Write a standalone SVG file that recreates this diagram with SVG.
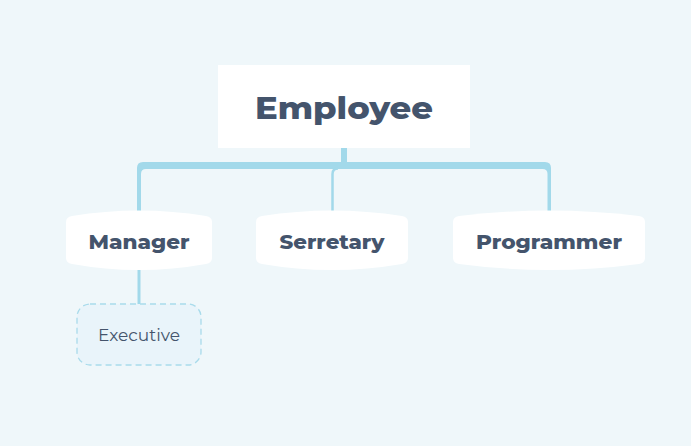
<svg xmlns="http://www.w3.org/2000/svg" width="691" height="446" viewBox="0 0 691 446">
<style>
.bg{fill:#EFF7FA}
.box{fill:#FFFFFF}
.t{font-family:"Montserrat","Open Sans","Liberation Sans",sans-serif;fill:#44546C;text-anchor:middle}
.b{font-weight:800}
.cf{fill:#A2D9EA}
.c{fill:none;stroke:#A2D9EA}
</style>
<rect class="bg" x="0" y="0" width="691" height="446"/>
<g id="connectors">
<rect class="cf" x="341" y="147" width="6" height="16"/>
<path class="cf" d="M137,212 V168 Q137,162 143,162 H545 Q551,162 551,168 V212 H547.5 V174 Q547.5,169 542.5,169 H146 Q141,169 141,174 V212 Z"/>
<path class="c" d="M332.5,212 V174 Q332.5,168.5 338,168.5" stroke-width="2.5"/>
<line class="c" x1="139" y1="270" x2="139" y2="316" stroke-width="3"/>
</g>
<g id="employee">
<rect class="box" x="218" y="65" width="252" height="83"/>
<text class="t b" x="344" y="119" font-size="30" textLength="178" lengthAdjust="spacingAndGlyphs">Employee</text>
</g>
<g id="manager">
<path class="box" d="M66,222 Q66,217 72,216 Q139,205 206,216 Q212,217 212,222 V258 Q212,263 206,264 Q139,276 72,264 Q66,263 66,258 Z"/>
<text class="t b" x="139" y="249" font-size="20" textLength="101" lengthAdjust="spacingAndGlyphs">Manager</text>
</g>
<g id="serretary">
<path class="box" d="M256,222 Q256,217 262,216 Q332,205 402,216 Q408,217 408,222 V258 Q408,263 402,264 Q332,276 262,264 Q256,263 256,258 Z"/>
<text class="t b" x="332" y="249" font-size="20" textLength="105" lengthAdjust="spacingAndGlyphs">Serretary</text>
</g>
<g id="programmer">
<path class="box" d="M453,222 Q453,217 459,216 Q549,205 639,216 Q645,217 645,222 V258 Q645,263 639,264 Q549,276 459,264 Q453,263 453,258 Z"/>
<text class="t b" x="549" y="249" font-size="20" textLength="146" lengthAdjust="spacingAndGlyphs">Programmer</text>
</g>
<g id="executive">
<rect x="77" y="304" width="124" height="61" rx="13" fill="#E9F4FA" stroke="#A9DBEB" stroke-width="1.3" stroke-dasharray="6,4"/>
<text class="t" x="139" y="341" font-size="16" textLength="82" lengthAdjust="spacingAndGlyphs">Executive</text>
</g>
</svg>
